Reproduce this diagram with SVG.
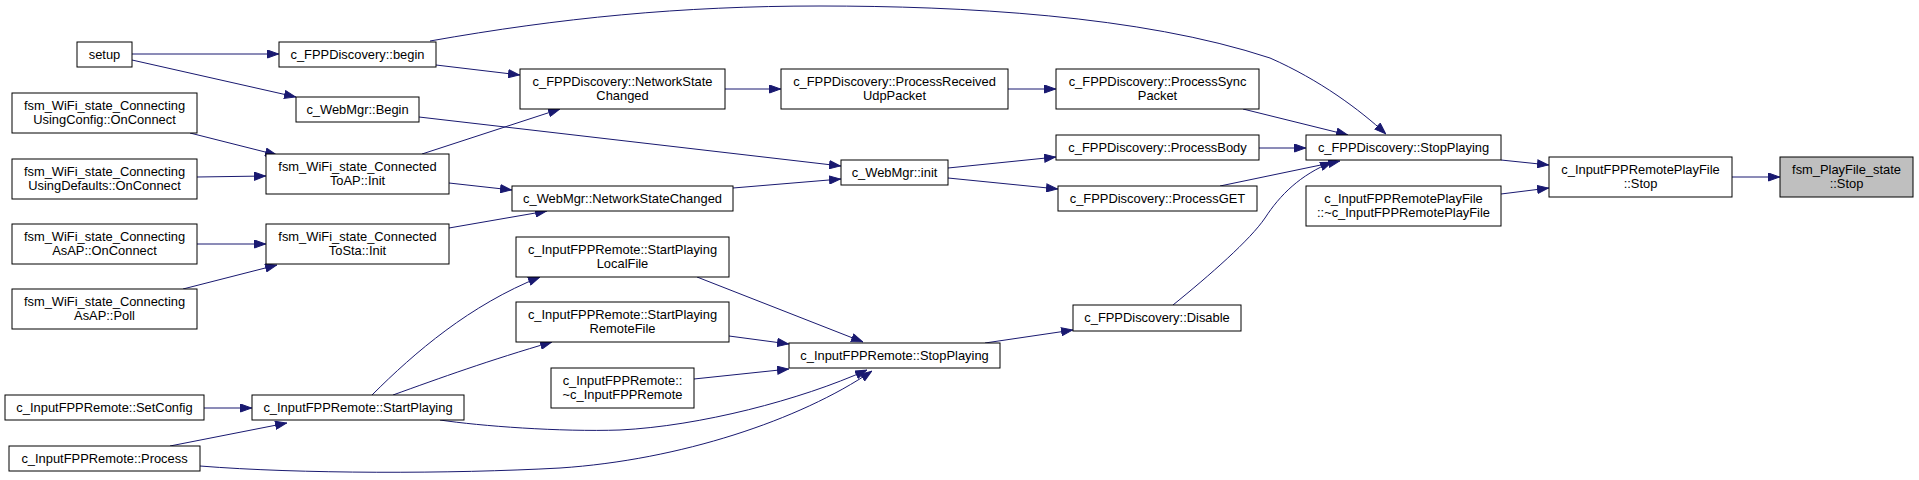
<svg xmlns="http://www.w3.org/2000/svg" width="1919" height="480" viewBox="0 0 1919 480">
<style>
.n rect{fill:#ffffff;stroke:#000000;stroke-width:1}
.n.h rect{fill:#bfbfbf}
.n text{font-family:"Liberation Sans",Arial,sans-serif;font-size:12.9px;text-anchor:middle;fill:#000000}
.e path{fill:none;stroke:#191970;stroke-width:1;marker-end:url(#ah)}
</style>
<defs>
<marker id="ah" viewBox="0 0 12 9" refX="12" refY="4.5" markerWidth="12" markerHeight="9" markerUnits="userSpaceOnUse" orient="auto">
<path d="M0.5,0.5 L11.5,4.5 L0.5,8.5 z" fill="#191970" stroke="#191970"/>
</marker>
</defs>
<rect width="1919" height="480" fill="#ffffff"/>
<g id="edges" class="e">
<path d="M132,54 L279,54"/>
<path d="M132,60 L296,97"/>
<path d="M436,65 L520,75"/>
<path d="M430,41 C560,18 680,6 820,6 C960,6 1140,15 1270,58 C1320,80 1360,110 1386,134"/>
<path d="M419,117 L841,166"/>
<path d="M422,154 L560,109"/>
<path d="M449,183 L512,190"/>
<path d="M190,133 L277,155"/>
<path d="M197,177 L266,176"/>
<path d="M449,228 L547,211"/>
<path d="M197,244 L266,244"/>
<path d="M183,289 L277,265"/>
<path d="M725,89 L781,89"/>
<path d="M1008,89 L1056,89"/>
<path d="M948,168 L1056,157"/>
<path d="M948,178 L1058,189"/>
<path d="M733,188 L841,179"/>
<path d="M1243,109 L1348,135"/>
<path d="M1259,148 L1306,148"/>
<path d="M1220,186 L1340,161"/>
<path d="M1173,305 C1210,275 1250,240 1265,218 C1280,195 1300,175 1332,162"/>
<path d="M1501,160 L1549,165"/>
<path d="M1501,194 L1549,188"/>
<path d="M1732,177 L1780,177"/>
<path d="M985,343 L1073,330"/>
<path d="M697,277 L863,342"/>
<path d="M729,336 L789,344"/>
<path d="M694,379 L789,369"/>
<path d="M372,395 C415,352 470,305 540,277"/>
<path d="M393,395 C440,378 490,360 552,342"/>
<path d="M440,420 C480,426 560,432 620,430 C700,426 800,400 867,370"/>
<path d="M200,466 C300,474 450,474 560,468 C680,460 800,420 872,371"/>
<path d="M170,446 L287,423"/>
<path d="M204,408 L252,408"/>
</g>
<g id="setup" class="n"><rect x="77" y="42" width="55" height="25"/><text x="104.5" y="58.5">setup</text></g>
<g id="fpp_begin" class="n"><rect x="279" y="42" width="157" height="25"/><text x="357.5" y="58.5">c_FPPDiscovery::begin</text></g>
<g id="webmgr_begin" class="n"><rect x="296" y="97" width="123" height="25"/><text x="357.5" y="113.5">c_WebMgr::Begin</text></g>
<g id="using_config" class="n"><rect x="12" y="93" width="185" height="40"/><text x="104.5" y="110">fsm_WiFi_state_Connecting</text><text x="104.5" y="124">UsingConfig::OnConnect</text></g>
<g id="using_defaults" class="n"><rect x="12" y="159" width="185" height="40"/><text x="104.5" y="176">fsm_WiFi_state_Connecting</text><text x="104.5" y="190">UsingDefaults::OnConnect</text></g>
<g id="asap_onconnect" class="n"><rect x="12" y="224" width="185" height="40"/><text x="104.5" y="241">fsm_WiFi_state_Connecting</text><text x="104.5" y="255">AsAP::OnConnect</text></g>
<g id="asap_poll" class="n"><rect x="12" y="289" width="185" height="40"/><text x="104.5" y="306">fsm_WiFi_state_Connecting</text><text x="104.5" y="320">AsAP::Poll</text></g>
<g id="toap_init" class="n"><rect x="266" y="154" width="183" height="40"/><text x="357.5" y="171">fsm_WiFi_state_Connected</text><text x="357.5" y="185">ToAP::Init</text></g>
<g id="tosta_init" class="n"><rect x="266" y="224" width="183" height="40"/><text x="357.5" y="241">fsm_WiFi_state_Connected</text><text x="357.5" y="255">ToSta::Init</text></g>
<g id="setconfig" class="n"><rect x="5" y="395" width="199" height="25"/><text x="104.5" y="411.5">c_InputFPPRemote::SetConfig</text></g>
<g id="process" class="n"><rect x="9" y="446" width="191" height="25"/><text x="104.5" y="462.5">c_InputFPPRemote::Process</text></g>
<g id="startplaying" class="n"><rect x="252" y="395" width="212" height="25"/><text x="358" y="411.5">c_InputFPPRemote::StartPlaying</text></g>
<g id="fpp_nsc" class="n"><rect x="520" y="69" width="205" height="40"/><text x="622.5" y="86">c_FPPDiscovery::NetworkState</text><text x="622.5" y="100">Changed</text></g>
<g id="webmgr_nsc" class="n"><rect x="512" y="186" width="221" height="25"/><text x="622.5" y="202.5">c_WebMgr::NetworkStateChanged</text></g>
<g id="local_file" class="n"><rect x="516" y="237" width="213" height="40"/><text x="622.5" y="254">c_InputFPPRemote::StartPlaying</text><text x="622.5" y="268">LocalFile</text></g>
<g id="remote_file" class="n"><rect x="516" y="302" width="213" height="40"/><text x="622.5" y="319">c_InputFPPRemote::StartPlaying</text><text x="622.5" y="333">RemoteFile</text></g>
<g id="dtor_remote" class="n"><rect x="551" y="368" width="143" height="40"/><text x="622.5" y="385">c_InputFPPRemote::</text><text x="622.5" y="399">~c_InputFPPRemote</text></g>
<g id="udp" class="n"><rect x="781" y="69" width="227" height="40"/><text x="894.5" y="86">c_FPPDiscovery::ProcessReceived</text><text x="894.5" y="100">UdpPacket</text></g>
<g id="webmgr_init" class="n"><rect x="841" y="160" width="107" height="25"/><text x="894.5" y="176.5">c_WebMgr::init</text></g>
<g id="remote_stop" class="n"><rect x="789" y="343" width="211" height="25"/><text x="894.5" y="359.5">c_InputFPPRemote::StopPlaying</text></g>
<g id="sync" class="n"><rect x="1056" y="69" width="203" height="40"/><text x="1157.5" y="86">c_FPPDiscovery::ProcessSync</text><text x="1157.5" y="100">Packet</text></g>
<g id="body" class="n"><rect x="1056" y="135" width="203" height="25"/><text x="1157.5" y="151.5">c_FPPDiscovery::ProcessBody</text></g>
<g id="get" class="n"><rect x="1058" y="186" width="199" height="25"/><text x="1157.5" y="202.5">c_FPPDiscovery::ProcessGET</text></g>
<g id="disable" class="n"><rect x="1073" y="305" width="168" height="26"/><text x="1157" y="322">c_FPPDiscovery::Disable</text></g>
<g id="fpp_stop" class="n"><rect x="1306" y="135" width="195" height="25"/><text x="1403.5" y="151.5">c_FPPDiscovery::StopPlaying</text></g>
<g id="dtor_playfile" class="n"><rect x="1306" y="186" width="195" height="40"/><text x="1403.5" y="203">c_InputFPPRemotePlayFile</text><text x="1403.5" y="217">::~c_InputFPPRemotePlayFile</text></g>
<g id="playfile_stop" class="n"><rect x="1549" y="157" width="183" height="40"/><text x="1640.5" y="174">c_InputFPPRemotePlayFile</text><text x="1640.5" y="188">::Stop</text></g>
<g id="fsm_stop" class="n h"><rect x="1780" y="157" width="133" height="40"/><text x="1846.5" y="174">fsm_PlayFile_state</text><text x="1846.5" y="188">::Stop</text></g>
</svg>
